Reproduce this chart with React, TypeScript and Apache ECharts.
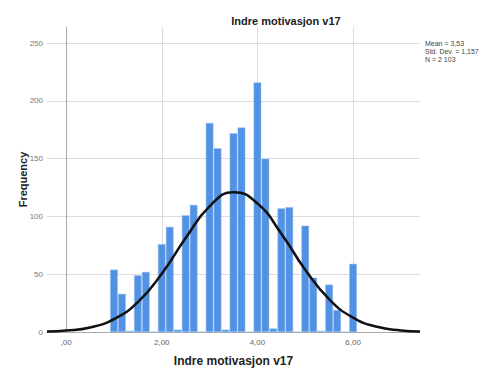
import React, { useEffect, useRef } from "react";
import * as echarts from "echarts";

const titleText = "Indre motivasjon v17";
const xAxisName = "Indre motivasjon v17";
const yAxisName = "Frequency";
const statsLines = ["Mean = 3,53", "Std. Dev. = 1,157", "N = 2 103"];

const binCenters = [
  1.0, 1.167, 1.333, 1.5, 1.667, 1.833, 2.0, 2.167, 2.333, 2.5, 2.667, 2.833,
  3.0, 3.167, 3.333, 3.5, 3.667, 3.833, 4.0, 4.167, 4.333, 4.5, 4.667, 4.833,
  5.0, 5.167, 5.333, 5.5, 5.667, 5.833, 6.0,
];
const binCounts = [
  54, 33, 1, 49, 52, 0, 76, 91, 2, 101, 110, 0,
  181, 159, 2, 172, 177, 0, 216, 150, 3, 107, 108, 0,
  92, 47, 1, 41, 19, 0, 59,
];

const curveX = [-0.4, 0, 0.5, 1.0, 1.5, 2.0, 2.5, 3.0, 3.5, 4.0, 4.5, 5.0, 5.5, 6.0, 6.5, 7.0, 7.4];
const curveY = [0.4, 1.2, 3.9, 11.1, 25.9, 50.4, 81.3, 108.8, 120.9, 111.3, 85.1, 53.9, 28.4, 12.4, 4.5, 1.4, 0.5];

const xTickValues = [0, 2, 4, 6];

function fmtX(v: number): string {
  const s = v.toFixed(2).replace(".", ",");
  return s.startsWith("0") ? s.slice(1) : s;
}

export default function App() {
  const ref = useRef<HTMLDivElement>(null);
  useEffect(() => {
    if (!ref.current) return;
    const chart = echarts.init(ref.current, null, { renderer: "svg" });
    const font = "'Liberation Sans', Arial, sans-serif";
    chart.setOption({
      animation: false,
      backgroundColor: "#fff",
      textStyle: { fontFamily: font },
      title: {
        text: titleText,
        left: 281,
        top: 10,
        textAlign: "center",
        textStyle: { fontSize: 11, fontWeight: "bold", color: "#222", fontFamily: font },
      },
      grid: { left: 47, right: 67, top: 27, bottom: 37, containLabel: false, outerBoundsMode: "none" },
      xAxis: {
        type: "value",
        min: -0.4,
        max: 7.4,
        interval: 0.4,
        name: xAxisName,
        nameLocation: "middle",
        nameGap: 23,
        nameMoveOverlap: false,
        nameTextStyle: { fontSize: 12, fontWeight: "bold", color: "#222" },
        axisLine: { show: true, lineStyle: { color: "#aaa", width: 1 } },
        axisTick: { show: false },
        splitLine: { show: false },
        axisLabel: {
          fontSize: 8,
          color: "#666",
          margin: 6,
          formatter: (v: number) =>
            xTickValues.some((t) => Math.abs(t - v) < 1e-6) ? fmtX(v) : "",
        },
      },
      yAxis: {
        type: "value",
        min: 0,
        max: 264,
        interval: 50,
        name: yAxisName,
        nameLocation: "middle",
        nameGap: 19,
        nameMoveOverlap: false,
        nameTextStyle: { fontSize: 11, fontWeight: "bold", color: "#222" },
        axisLine: { show: true, lineStyle: { color: "#aaa", width: 1 } },
        axisTick: { show: false },
        axisLabel: {
          fontSize: 8,
          color: "#777",
          margin: 4,
          formatter: (v: number) => (v % 50 === 0 ? String(v) : ""),
        },
        splitLine: { show: true, showMaxLine: false, lineStyle: { color: "#dcdcdc", width: 1 } },
      },
      series: [
        {
          type: "bar",
          data: binCenters.map((x, i) => [x, binCounts[i]]),
          barWidth: 7.6,
          itemStyle: { color: "#5292e4", borderColor: "#90bbef", borderWidth: 0.5 },
          markLine: {
            silent: true,
            symbol: "none",
            label: { show: false },
            lineStyle: { color: "#dcdcdc", width: 1, type: "solid" },
            data: xTickValues.map((t) => ({ xAxis: t })),
            z: 0,
          },
          z: 2,
        },
        {
          type: "line",
          data: curveX.map((x, i) => [x, curveY[i]]),
          smooth: true,
          showSymbol: false,
          symbol: "none",
          lineStyle: { color: "#111", width: 2.5 },
          z: 3,
        },
      ],
      graphic: statsLines.map((t, i) => ({
        type: "text",
        left: 425,
        top: 40 + i * 8,
        style: { text: t, fontSize: 7, fill: "#444", fontFamily: font },
      })),
    });
    return () => chart.dispose();
  }, []);
  return (
    <div
      ref={ref}
      style={{ position: "fixed", left: 0, top: 0, width: 487, height: 369 }}
    />
  );
}
